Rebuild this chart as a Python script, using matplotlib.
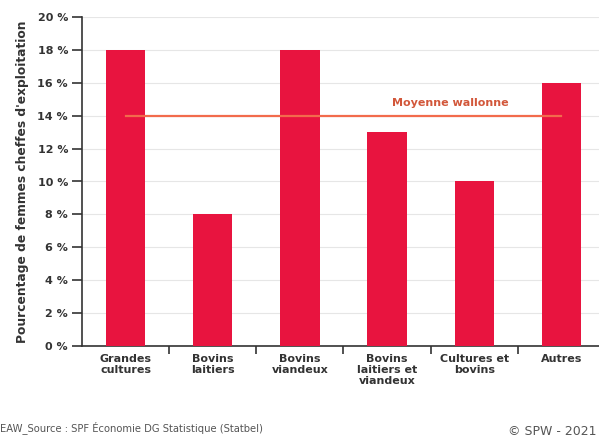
import numpy as np
import matplotlib
matplotlib.use('Agg')
import matplotlib.pyplot as plt
from matplotlib.ticker import FixedLocator

categories = ['Grandes\ncultures', 'Bovins\nlaitiers', 'Bovins\nviandeux',
              'Bovins\nlaitiers et\nviandeux', 'Cultures et\nbovins', 'Autres']
values = [18, 8, 18, 13, 10, 16]
moyenne = 14
yticks = [0, 2, 4, 6, 8, 10, 12, 14, 16, 18, 20]

fig = plt.figure(figsize=(5.99, 4.36), dpi=100)
ax = fig.add_axes([82/599, 90/436, 523/599, 329/436])

x = np.arange(len(categories))
ax.bar(x, values, width=0.45, color='#e8143f', zorder=3)
ax.plot([x[0], x[-1]], [moyenne, moyenne], color='#f26b4c', lw=1.6, zorder=4)
ax.text(3.73, moyenne + 0.75, 'Moyenne wallonne', color='#d2573a', fontsize=8,
        fontweight='bold', ha='center', va='center', zorder=5)

ax.set_xlim(-0.5, 5.5)
ax.set_ylim(0, 20)
ax.set_yticks(yticks)
ax.set_yticklabels([f'{v} %' for v in yticks])
ax.yaxis.grid(True, color='#e6e6e6', lw=0.8, zorder=0)

ax.set_xticks(x)
ax.set_xticklabels(categories, fontsize=8, fontweight='bold', color='#333333',
                   linespacing=1.1)
ax.xaxis.set_minor_locator(FixedLocator(np.arange(0.5, 5.5, 1)))
ax.tick_params(axis='x', which='major', length=0, pad=6)
ax.tick_params(axis='x', which='minor', length=6, width=1.2, color='#333333')
ax.tick_params(axis='y', length=7, width=1.2, color='#333333', labelsize=8,
               labelcolor='#333333', pad=3)
for lab in ax.get_yticklabels():
    lab.set_fontweight('bold')

for s in ['top', 'right']:
    ax.spines[s].set_visible(False)
for s in ['left', 'bottom']:
    ax.spines[s].set_color('#333333')
    ax.spines[s].set_linewidth(1.2)

ax.set_ylabel("Pourcentage de femmes cheffes d'exploitation", fontsize=8.8,
              fontweight='bold', color='#333333', labelpad=6)

fig.text(0.0, 436 - 428, 'EAW_Source : SPF Économie DG Statistique (Statbel)',
         fontsize=7.2, color='#555555', ha='left', va='center',
         transform=None)
fig.text(596, 436 - 431, '© SPW - 2021', fontsize=9, color='#555555',
         ha='right', va='center', transform=None)

fig.savefig('out.png', dpi=100)
